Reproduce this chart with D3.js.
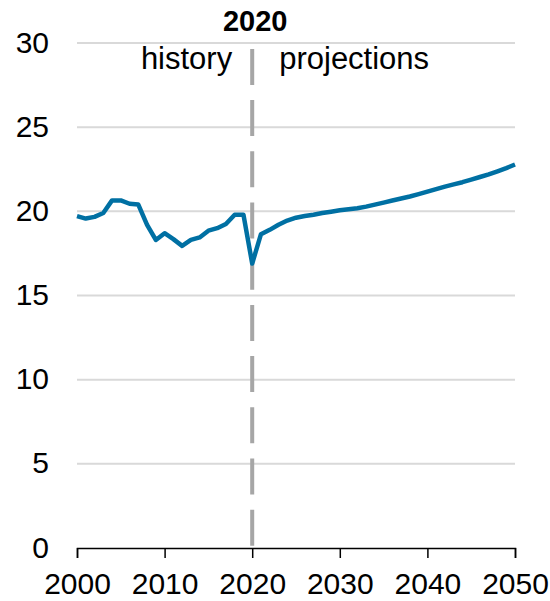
<!DOCTYPE html>
<html>
<head>
<meta charset="utf-8">
<script src="https://cdn.jsdelivr.net/npm/d3@7"></script>
<style>
  body { margin: 0; background: #fff; }
  text { font-family: "Liberation Sans", Arial, sans-serif; }
</style>
</head>
<body>
<svg></svg>
<script>
// years and values
let years = d3.range(2000, 2051);
let values = [
  19.72, 19.57, 19.67, 19.9, 20.65, 20.65, 20.45, 20.4, 19.2, 18.3,
  18.7, 18.35, 17.95, 18.3, 18.45, 18.85, 19.0, 19.25, 19.8, 19.8,
  16.9, 18.64, 18.9, 19.2, 19.45, 19.62, 19.72, 19.8, 19.9, 19.98,
  20.06, 20.12, 20.18, 20.28, 20.4, 20.52, 20.64, 20.76, 20.88, 21.02,
  21.17, 21.32, 21.47, 21.6, 21.73, 21.88, 22.04, 22.2, 22.38, 22.57,
  22.78
];
let yTicks = [0, 5, 10, 15, 20, 25, 30];
let xTicks = [2000, 2010, 2020, 2030, 2040, 2050];
let splitYear = 2020;
let labels = {title: "2020", left: "history", right: "projections"};

let data = years.map((y, i) => ({year: y, value: values[i]}));

// page is 550 x 601
let margin = {top: 43, right: 35, bottom: 53, left: 77};
let width = 550 - margin.left - margin.right;
let height = 601 - margin.top - margin.bottom;

let xScale = d3.scaleLinear()
              .domain([2000, 2050])
              .range([0, width]);

let yScale = d3.scaleLinear()
              .domain([0, 30])
              .range([height, 0]);

let svg = d3.select("svg")
            .attr("width", 550)
            .attr("height", 601);

let g = svg.append("g")
          .attr("transform", `translate(${margin.left}, ${margin.top})`);

// gridlines
g.selectAll(".grid")
  .data(yTicks.filter(d => d > 0))
  .enter().append("line")
  .attr("x1", 0)
  .attr("x2", width)
  .attr("y1", d => yScale(d))
  .attr("y2", d => yScale(d))
  .attr("stroke", "#d9d9d9")
  .attr("stroke-width", 2);

// y labels (no axis line)
g.selectAll(".ylab")
  .data(yTicks)
  .enter().append("text")
  .attr("x", -28)
  .attr("y", d => yScale(d))
  .attr("dy", "0.32em")
  .attr("text-anchor", "end")
  .attr("font-size", 30)
  .attr("fill", "#000")
  .text(d => d);

// dashed divider
g.append("line")
  .attr("x1", xScale(splitYear))
  .attr("x2", xScale(splitYear))
  .attr("y1", yScale(29.65))
  .attr("y2", yScale(0))
  .attr("stroke", "#a6a6a6")
  .attr("stroke-width", 4)
  .attr("stroke-dasharray", "36 15.2");

// x axis
let xAxis = d3.axisBottom(xScale)
              .tickValues(xTicks)
              .tickFormat(d3.format("d"))
              .tickSize(10)
              .tickPadding(15);

let ax = g.append("g")
  .attr("transform", `translate(0, ${height})`)
  .call(xAxis);
ax.select(".domain").attr("stroke", "#000").attr("stroke-width", 1.5);
ax.selectAll(".tick line").attr("stroke", "#000").attr("stroke-width", 1.5);
ax.selectAll(".tick text")
  .attr("font-size", 30)
  .attr("font-family", "Liberation Sans, Arial, sans-serif")
  .attr("fill", "#000");

// the series
let line = d3.line()
            .x(d => xScale(d.year))
            .y(d => yScale(d.value));

g.append("path")
  .datum(data)
  .attr("d", line)
  .attr("fill", "none")
  .attr("stroke", "#0070a3")
  .attr("stroke-width", 4.5)
  .attr("stroke-linejoin", "round");

// labels around the divider
g.append("text")
  .attr("x", xScale(splitYear) + 3)
  .attr("y", 31 - margin.top)
  .attr("text-anchor", "middle")
  .attr("font-size", 29)
  .attr("font-weight", "bold")
  .text(labels.title);

g.append("text")
  .attr("x", xScale(splitYear) - 20)
  .attr("y", 69 - margin.top)
  .attr("text-anchor", "end")
  .attr("font-size", 31)
  .text(labels.left);

g.append("text")
  .attr("x", xScale(splitYear) + 27)
  .attr("y", 69 - margin.top)
  .attr("text-anchor", "start")
  .attr("font-size", 31)
  .text(labels.right);
</script>
</body>
</html>
